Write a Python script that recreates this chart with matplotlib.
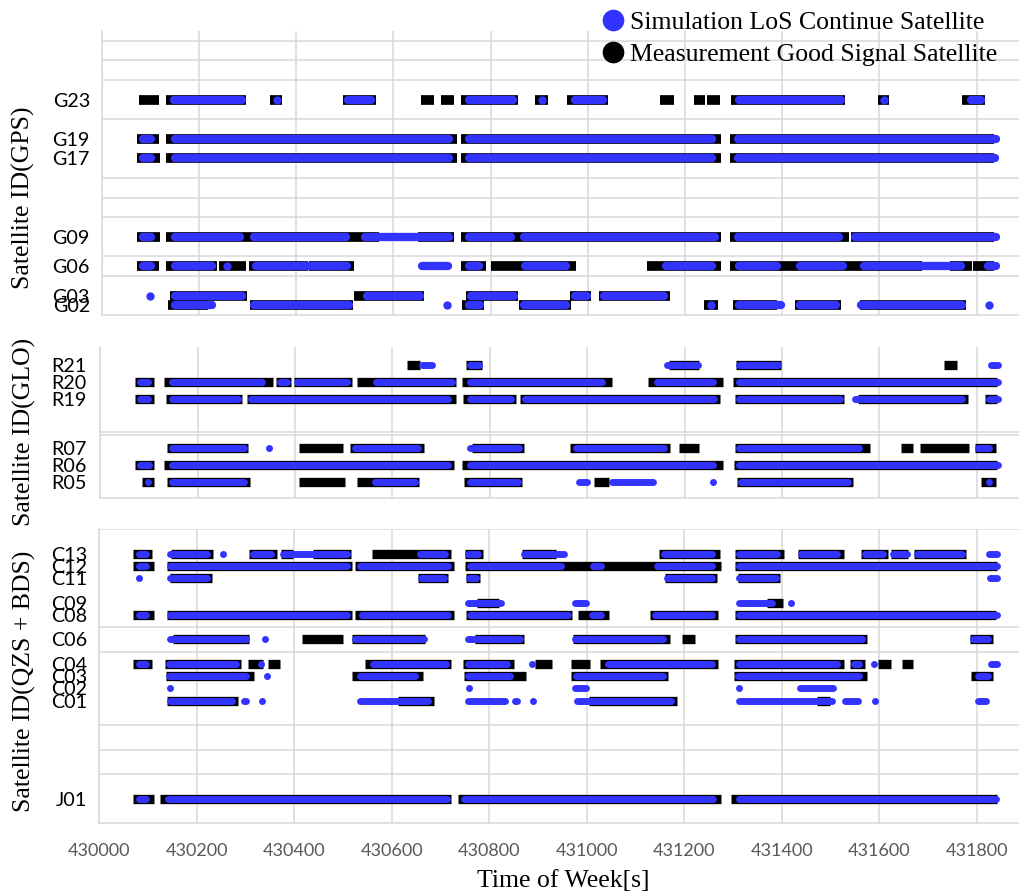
import matplotlib
matplotlib.use('Agg')
import matplotlib.pyplot as plt
from matplotlib.lines import Line2D

# ---------------- data ----------------
X_TICKS = [430000, 430200, 430400, 430600, 430800, 431000, 431200, 431400, 431600, 431800]

GPS_IDS = ['G02', 'G03', 'G06', 'G09', 'G17', 'G19', 'G23']
GPS_POS = [2, 3, 6, 9, 17, 19, 23]
GPS_MEAS = [
    [(430137, 430219), (430305, 430517), (430742, 430787), (430859, 430966), (431238, 431267),
     (431298, 431389), (431426, 431520), (431560, 431778)],
    [(430140, 430298), (430518, 430664), (430750, 430856), (430964, 431007), (431022, 431169)],
    [(430073, 430118), (430132, 430238), (430241, 430296), (430303, 430424), (430426, 430519),
     (430740, 430791), (430800, 430975), (431122, 431274), (431293, 431687), (431746, 431790),
     (431793, 431835)],
    [(430073, 430120), (430132, 430570), (430650, 430724), (430740, 431274), (431293, 431537),
     (431541, 431835)],
    [(430073, 430120), (430132, 430730), (430740, 431274), (431293, 431835)],
    [(430073, 430118), (430132, 430730), (430740, 431274), (431293, 431835)],
    [(430077, 430118), (430132, 430296), (430346, 430370), (430496, 430564), (430656, 430683),
     (430699, 430724), (430740, 430856), (430892, 430918), (430958, 431041), (431149, 431178),
     (431219, 431242), (431246, 431272), (431295, 431529), (431597, 431620), (431770, 431818)],
]
GPS_SIM = [
    [(430142, 430235), (430305, 430517), (430710, 430710), (430748, 430787), (430861, 430964),
     (431253, 431253), (431303, 431407), (431428, 431520), (431554, 431778), (431825, 431825)],
    [(430099, 430099), (430142, 430298), (430537, 430664), (430752, 430856), (430966, 431007),
     (431024, 431166)],
    [(430076, 430110), (430142, 430236), (430258, 430258), (430308, 430514), (430650, 430720),
     (430748, 430785), (430863, 430964), (431152, 431264), (431303, 431397), (431428, 431533),
     (431560, 431777), (431815, 431849)],
    [(430076, 430110), (430142, 430294), (430305, 430512), (430534, 430722), (430748, 430851),
     (430861, 431270), (431301, 431525), (431541, 431849)],
    [(430076, 430110), (430142, 430722), (430748, 431264), (431301, 431846)],
    [(430076, 430110), (430142, 430722), (430748, 431264), (431301, 431849)],
    [(430140, 430298), (430360, 430360), (430498, 430562), (430748, 430855), (430905, 430905),
     (430966, 431040), (431303, 431529), (431609, 431609), (431780, 431817)],
]

GLO_IDS = ['R05', 'R06', 'R07', 'R19', 'R20', 'R21']
GLO_POS = [1, 2, 3, 6, 7, 8]
GLO_MEAS = [
    [(430085, 430110), (430137, 430308), (430408, 430502), (430527, 430655), (430748, 430867),
     (431014, 431044), (431307, 431546), (431808, 431839)],
    [(430071, 430110), (430130, 430726), (430743, 431280), (431301, 431841)],
    [(430137, 430303), (430408, 430498), (430512, 430664), (430763, 430870), (430964, 431171),
     (431188, 431229), (431303, 431580), (431645, 431669), (431683, 431784), (431796, 431839)],
    [(430071, 430110), (430134, 430292), (430302, 430731), (430746, 430853), (430863, 431272),
     (431303, 431527), (431557, 431782), (431817, 431841)],
    [(430071, 430110), (430130, 430354), (430361, 430391), (430397, 430518), (430527, 430731),
     (430743, 431050), (431125, 431280), (431299, 431841)],
    [(430630, 430657), (430751, 430784), (431169, 431229), (431305, 431399), (431733, 431759)],
]
GLO_SIM = [
    [(430097, 430097), (430140, 430303), (430558, 430654), (430753, 430866), (430976, 431007),
     (431044, 431143), (431258, 431258), (431308, 431543), (431825, 431825)],
    [(430074, 430108), (430140, 430722), (430753, 431266), (431305, 431852)],
    [(430140, 430303), (430346, 430346), (430517, 430660), (430753, 430867), (430969, 431164),
     (431305, 431566), (431796, 431832)],
    [(430074, 430106), (430140, 430290), (430303, 430722), (430753, 430851), (430865, 431268),
     (431305, 431527), (431543, 431777), (431819, 431852)],
    [(430074, 430106), (430140, 430339), (430361, 430391), (430397, 430514), (430560, 430729),
     (430753, 431037), (431137, 431266), (431305, 431852)],
    [(430654, 430688), (430753, 430784), (431157, 431235), (431305, 431399), (431823, 431852)],
]

BDS_IDS = ['J01', 'C01', 'C02', 'C03', 'C04', 'C06', 'C08', 'C09', 'C11', 'C12', 'C13']
BDS_POS = [-7, 1, 2, 3, 4, 6, 8, 9, 11, 12, 13]
BDS_MEAS = [
    [(430069, 430112), (430125, 430722), (430736, 431276), (431297, 431841)],
    [(430139, 430284), (430613, 430687), (431005, 431186), (431472, 431500)],
    [],
    [(430137, 430317), (430518, 430664), (430748, 430875), (430968, 431167), (431303, 431576),
     (431788, 431833)],
    [(430069, 430108), (430134, 430290), (430305, 430336), (430346, 430370), (430546, 430721),
     (430746, 430851), (430894, 430929), (430968, 431007), (431027, 431270), (431303, 431527),
     (431540, 431572), (431597, 431625), (431646, 431669)],
    [(430151, 430308), (430416, 430500), (430518, 430668), (430770, 430872), (430972, 431170),
     (431196, 431222), (431305, 431576), (431786, 431833)],
    [(430069, 430113), (430139, 430518), (430524, 430728), (430752, 430970), (430983, 431046),
     (431131, 431270), (431305, 431839)],
    [(430775, 430820), (431371, 431402)],
    [(430146, 430231), (430655, 430716), (430752, 430781), (431161, 431267), (431311, 431396)],
    [(430069, 430113), (430139, 430518), (430524, 430728), (430750, 431276), (431305, 431841)],
    [(430069, 430108), (430147, 430234), (430308, 430364), (430373, 430397), (430438, 430516),
     (430560, 430721), (430750, 430787), (430868, 430937), (431149, 431274), (431305, 431404),
     (431433, 431527), (431563, 431618), (431625, 431660), (431671, 431779)],
]
BDS_SIM = [
    [(430074, 430104), (430133, 430720), (430742, 431266), (431306, 431847)],
    [(430139, 430280), (430290, 430308), (430334, 430334), (430527, 430681), (430750, 430839),
     (430845, 430865), (430890, 430890), (430974, 431180), (431305, 431511), (431523, 431564),
     (431591, 431591), (431796, 431827)],
    [(430145, 430145), (430753, 430763), (430968, 431005), (431313, 431313), (431430, 431512)],
    [(430137, 430308), (430344, 430344), (430527, 430655), (430750, 430849), (430971, 431164),
     (431303, 431566), (431796, 431831)],
    [(430074, 430104), (430137, 430288), (430331, 430331), (430555, 430719), (430750, 430844),
     (430888, 430888), (431036, 431264), (431305, 431520), (431541, 431566), (431589, 431589),
     (431823, 431850)],
    [(430139, 430308), (430341, 430341), (430517, 430673), (430750, 430870), (430968, 431164),
     (431305, 431572), (431786, 431831)],
    [(430074, 430104), (430139, 430516), (430533, 430722), (430753, 430968), (431003, 431037),
     (431133, 431264), (431305, 431849)],
    [(430750, 430832), (430968, 431005), (431305, 431387), (431420, 431420)],
    [(430082, 430082), (430139, 430229), (430653, 430714), (430752, 430781), (431157, 431264),
     (431305, 431396), (431820, 431850)],
    [(430074, 430104), (430139, 430516), (430527, 430722), (430753, 430955), (431005, 431037),
     (431137, 431264), (431305, 431850)],
    [(430074, 430104), (430139, 430229), (430254, 430254), (430308, 430359), (430370, 430516),
     (430650, 430716), (430750, 430785), (430865, 430960), (431152, 431264), (431305, 431397),
     (431433, 431520), (431563, 431615), (431621, 431665), (431671, 431777), (431818, 431850)],
]

LEGEND_LABELS = ['Simulation LoS Continue Satellite', 'Measurement Good Signal Satellite']

# ---------------- style ----------------
BLUE = '#3333ff'
GRID = '#d9d9d9'
plt.rcParams['font.family'] = ['Lato', 'DejaVu Sans']
SERIF = ['Liberation Serif', 'DejaVu Serif']

W, H = 1019, 893
fig = plt.figure(figsize=(W / 100, H / 100), dpi=100)


def fx(px):
    return px / W


def fy(py):
    return 1 - py / H


XMIN, XMAX = 430000, 431887


def make_axes(left, top, bottom):
    ax = fig.add_axes([fx(left), fy(bottom), fx(W - left), (bottom - top) / H])
    ax.set_xlim(XMIN, XMAX)
    ax.set_xticks(X_TICKS)
    ax.grid(axis='x', which='major', color=GRID, lw=1.1)
    ax.grid(axis='y', which='minor', color=GRID, lw=1.1)
    ax.set_axisbelow(True)
    for s in ['top', 'right']:
        ax.spines[s].set_visible(False)
    for s in ['left', 'bottom']:
        ax.spines[s].set_color(GRID)
        ax.spines[s].set_linewidth(1.1)
    ax.tick_params(axis='both', which='both', length=0)
    ax.tick_params(axis='y', labelsize=14.2, pad=8.5, labelcolor='black')
    ax.tick_params(axis='x', labelsize=13, pad=14, labelcolor='#595959')
    return ax


def draw(ax, pos, meas, sim, black_lw, blue_lw):
    for y, ivs in zip(pos, meas):
        if ivs:
            lc = ax.hlines([y] * len(ivs), [a for a, b in ivs], [b for a, b in ivs],
                           colors='black', lw=black_lw, zorder=3)
            lc.set_capstyle('butt')
    px_per_s = ax.bbox.width / (XMAX - XMIN)
    r = (blue_lw * 100 / 72) / 2 / px_per_s
    for y, ivs in zip(pos, sim):
        ys, x0, x1, dx = [], [], [], []
        for a, b in ivs:
            if b - a > 2 * r:
                ys.append(y)
                x0.append(a + r)
                x1.append(b - r)
            else:
                dx.append((a + b) / 2)
        if ys:
            lc = ax.hlines(ys, x0, x1, colors=BLUE, lw=blue_lw, zorder=4)
            lc.set_capstyle('round')
        if dx:
            ax.plot(dx, [y] * len(dx), 'o', color=BLUE, ms=blue_lw, mew=0, zorder=4)


# GPS panel
ax1 = make_axes(101.7, 31, 315.3)
ax1.set_ylim(1, 30)
ax1.set_yticks(GPS_POS)
ax1.set_yticklabels(GPS_IDS)
ax1.set_yticks(list(range(3, 30, 2)), minor=True)
ax1.tick_params(axis='x', labelbottom=False)
draw(ax1, GPS_POS, GPS_MEAS, GPS_SIM, 7.0, 6.0)

# GLONASS panel
ax2 = make_axes(100.3, 346.7, 498.3)
ax2.set_ylim(0, 9.13)
ax2.set_yticks(GLO_POS)
ax2.set_yticklabels(GLO_IDS)
ax2.set_yticks([2, 3.8, 4, 6, 8], minor=True)
ax2.tick_params(axis='x', labelbottom=False)
ax2.tick_params(axis='y', pad=10)
draw(ax2, GLO_POS, GLO_MEAS, GLO_SIM, 6.7, 5.0)

# QZS + BDS panel
ax3 = make_axes(99.2, 529, 823.3)
ax3.set_ylim(-9, 15)
ax3.set_yticks(BDS_POS)
ax3.set_yticklabels(BDS_IDS)
ax3.set_yticks(list(range(-7, 16, 2)), minor=True)
draw(ax3, BDS_POS, BDS_MEAS, BDS_SIM, 6.7, 5.0)

# axis labels
for ax, txt, cx, cy in [(ax1, 'Satellite ID(GPS)', 23, 198),
                        (ax2, 'Satellite ID(GLO)', 24, 432),
                        (ax3, 'Satellite ID(QZS + BDS)', 24, 681)]:
    ax.set_ylabel(txt, family=SERIF, fontsize=18.5, color='black')
    ax.yaxis.set_label_coords(fx(cx), fy(cy), transform=fig.transFigure)
    ax.yaxis.label.set_va('center')
    ax.yaxis.label.set_ha('center')

ax3.set_xlabel('Time of Week[s]', family=SERIF, fontsize=18.5, color='black')
ax3.xaxis.set_label_coords(fx(563), fy(881), transform=fig.transFigure)
ax3.xaxis.label.set_va('center')

# legend
handles = [Line2D([], [], ls='none', marker='o', ms=15.6, mew=0, color=BLUE),
           Line2D([], [], ls='none', marker='o', ms=15.6, mew=0, color='black')]
fig.legend(handles, LEGEND_LABELS, loc='upper left', bbox_to_anchor=(fx(603), fy(11)),
           frameon=False, prop={'family': SERIF, 'size': 18.5}, handlelength=0.8,
           handletextpad=0.25, borderpad=0, borderaxespad=0, labelspacing=0.34)

fig.savefig('out.png', dpi=100)
